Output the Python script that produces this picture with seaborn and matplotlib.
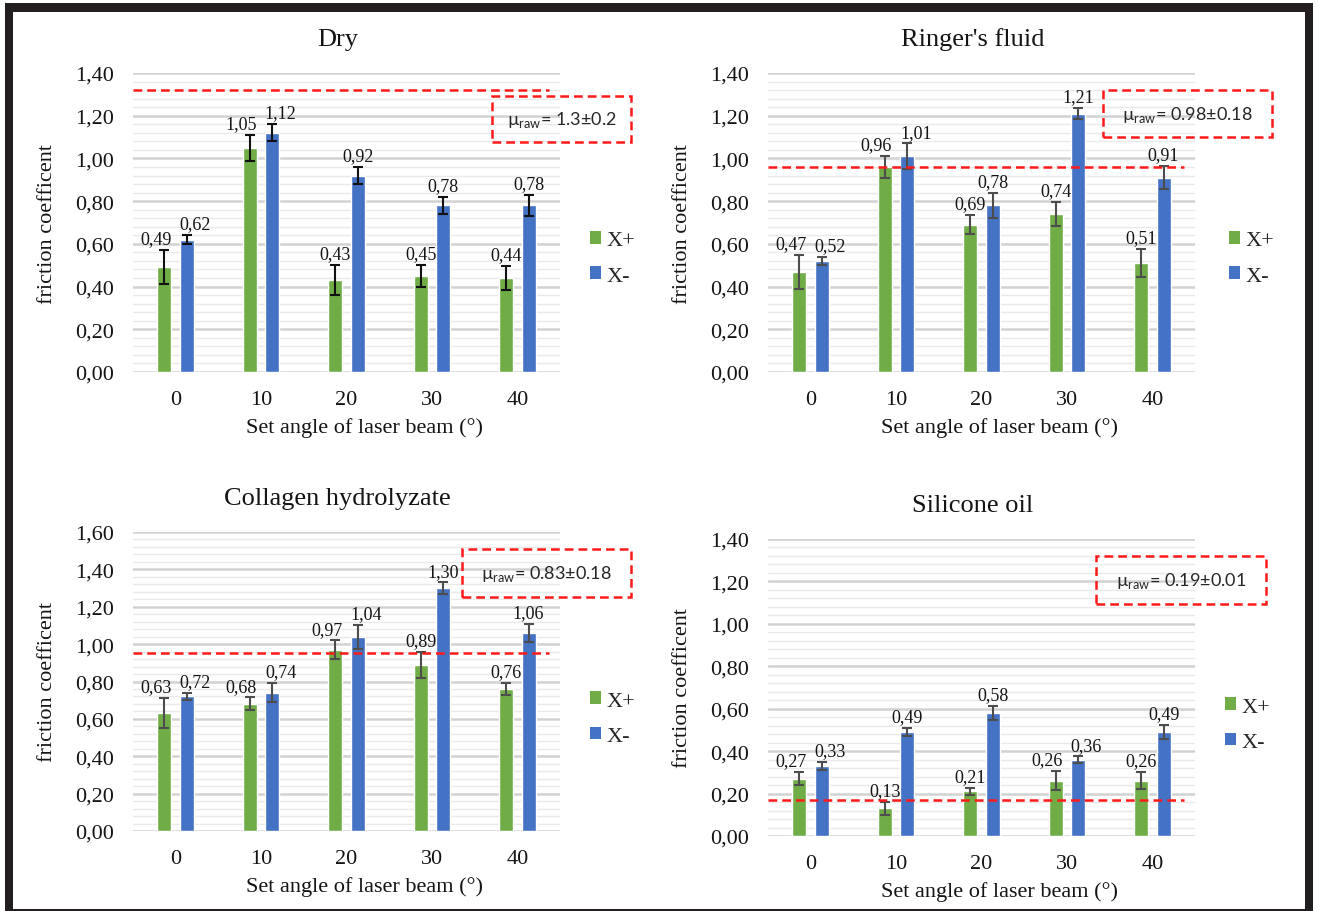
import numpy as np
import pandas as pd
import matplotlib
matplotlib.use("Agg")
import matplotlib.pyplot as plt
from matplotlib.patches import Patch, Rectangle
import seaborn as sns

# ---------------------------------------------------------------- data
angles = ["0", "10", "20", "30", "40"]
directions = ["X+", "X-"]

dry_xp = [0.49, 1.05, 0.43, 0.45, 0.44]
dry_xm = [0.62, 1.12, 0.92, 0.78, 0.78]
dry_xp_err = [0.08, 0.06, 0.07, 0.05, 0.055]
dry_xm_err = [0.02, 0.04, 0.04, 0.04, 0.05]

ringer_xp = [0.47, 0.96, 0.69, 0.74, 0.51]
ringer_xm = [0.52, 1.01, 0.78, 1.21, 0.91]
ringer_xp_err = [0.08, 0.05, 0.045, 0.055, 0.065]
ringer_xm_err = [0.02, 0.06, 0.06, 0.025, 0.055]

collagen_xp = [0.63, 0.68, 0.97, 0.89, 0.76]
collagen_xm = [0.72, 0.74, 1.04, 1.30, 1.06]
collagen_xp_err = [0.08, 0.035, 0.05, 0.07, 0.03]
collagen_xm_err = [0.02, 0.05, 0.065, 0.03, 0.05]

silicone_xp = [0.27, 0.13, 0.21, 0.26, 0.26]
silicone_xm = [0.33, 0.49, 0.58, 0.36, 0.49]
silicone_xp_err = [0.03, 0.03, 0.015, 0.045, 0.04]
silicone_xm_err = [0.02, 0.02, 0.035, 0.015, 0.035]

panel_titles = ["Dry", "Ringer's fluid", "Collagen hydrolyzate", "Silicone oil"]
mu_raw_texts = ["1.3±0.2", "0.98±0.18", "0.83±0.18", "0.19±0.01"]
mu_raw_levels = [1.32, 0.96, 0.95, 0.17]
y_max = [1.4, 1.4, 1.6, 1.4]

panels = [
    (dry_xp, dry_xm, dry_xp_err, dry_xm_err),
    (ringer_xp, ringer_xm, ringer_xp_err, ringer_xm_err),
    (collagen_xp, collagen_xm, collagen_xp_err, collagen_xm_err),
    (silicone_xp, silicone_xm, silicone_xp_err, silicone_xm_err),
]

# ---------------------------------------------------------------- style
GREEN = "#70AD47"
BLUE = "#4472C4"
RED = "#FF1A1A"
TEXT = "#141414"
SERIF = ["Liberation Serif", "DejaVu Serif"]
SANS = ["Lato", "DejaVu Sans"]
err_colors = ["#111111", "#4d4d4d", "#4d4d4d", "#4d4d4d"]

sns.set_theme(style="white")
plt.rcParams["font.family"] = SERIF
plt.rcParams["mathtext.fontset"] = "dejavusans"

W, H = 1319, 912
fig = plt.figure(figsize=(W / 100, H / 100), dpi=100)
fig.patch.set_facecolor("white")

# plot-area boxes in pixels: left, top, right, bottom
boxes = [(133, 74, 560, 373), (768, 74, 1195, 373),
         (133, 533, 560, 832), (768, 540, 1195, 837)]
# note boxes (axes fractions): x0, y0, x1, y1
note_boxes = [(0.841, 0.769, 1.166, 0.923), (0.785, 0.786, 1.18, 0.943),
              (0.77, 0.783, 1.166, 0.943), (0.768, 0.781, 1.166, 0.943)]
legend_anchor = [(1.07, 0.38), (1.08, 0.38), (1.07, 0.376), (1.07, 0.375)]


def fmt(v):
    return f"{v:.2f}".replace(".", ",")


for k, (l, t, r, b) in enumerate(boxes):
    ax = fig.add_axes([l / W, 1 - b / H, (r - l) / W, (b - t) / H])
    xp, xm, xp_err, xm_err = panels[k]
    df = pd.DataFrame({
        "angle": angles * 2,
        "direction": [directions[0]] * len(angles) + [directions[1]] * len(angles),
        "value": list(xp) + list(xm),
    })
    sns.barplot(data=df, x="angle", y="value", hue="direction",
                hue_order=directions, palette=[GREEN, BLUE], saturation=1,
                width=0.53, gap=0.38, errorbar=None, legend=False, ax=ax,
                zorder=2)

    ymax = y_max[k]
    ax.set_ylim(0, ymax)
    ax.set_xlim(-0.5, len(angles) - 0.5)
    ax.set_yticks(np.round(np.arange(0, ymax + 1e-9, 0.2), 2))
    ax.set_yticks(np.round(np.arange(0, ymax + 1e-9, 0.04), 2), minor=True)
    ax.yaxis.set_major_formatter(plt.FuncFormatter(lambda v, p: fmt(v)))
    ax.grid(axis="y", which="major", color="#d2d2d2", lw=1.8, zorder=0)
    ax.grid(axis="y", which="minor", color="#eaeaea", lw=1.0, zorder=0)
    ax.grid(axis="x", visible=False)
    ax.set_axisbelow(True)
    for s in ax.spines.values():
        s.set_visible(False)
    ax.tick_params(axis="both", which="both", length=0)
    ax.tick_params(axis="y", pad=13.5, labelsize=16)
    ax.tick_params(axis="x", pad=13, labelsize=16)
    for lab in ax.get_xticklabels() + ax.get_yticklabels():
        lab.set_family(SERIF)
        lab.set_color(TEXT)

    ax.set_xlabel("Set angle of laser beam (°)", fontsize=16, color=TEXT)
    ax.set_ylabel("friction coefficent", fontsize=16, color=TEXT)
    ax.xaxis.set_label_coords(0.542, -0.152)
    ax.yaxis.set_label_coords(-0.178, 0.5)
    ax.text(0.479, 1 + 28 / (b - t), panel_titles[k], transform=ax.transAxes,
            ha="center", va="baseline", fontsize=19, color=TEXT)

    # error bars on each bar
    tops = []
    centers = []
    for cont, vals, errs in zip(ax.containers, (xp, xm), (xp_err, xm_err)):
        xs = [p.get_x() + p.get_width() / 2 for p in cont.patches]
        ax.errorbar(xs, vals, yerr=errs, fmt="none", ecolor=err_colors[k],
                    elinewidth=1.5, capsize=3.5, capthick=1.5, zorder=3)
        centers.append(xs)
        tops.append([v + e for v, e in zip(vals, errs)])

    # value labels; pairs at similar heights are pushed apart
    for i in range(len(angles)):
        close = abs(tops[0][i] - tops[1][i]) < 0.1
        for j, vals in enumerate((xp, xm)):
            dx = (-6 if j == 0 else 6) if close else 0
            ax.annotate(fmt(vals[i]), (centers[j][i], tops[j][i]),
                        xytext=(dx, 2), textcoords="offset points",
                        ha="center", va="bottom", fontsize=13, color=TEXT,
                        zorder=5)

    # reference level of the raw surface
    ax.axhline(mu_raw_levels[k], xmin=0, xmax=0.975, color=RED, lw=1.8,
               ls=(0, (3.5, 2)), zorder=4)

    x0, y0, x1, y1 = note_boxes[k]
    ax.add_patch(Rectangle((x0, y0), x1 - x0, y1 - y0, transform=ax.transAxes,
                           fill=False, edgecolor=RED, lw=1.8,
                           ls=(0, (3.5, 2)), clip_on=False, zorder=6))
    ax.text((x0 + x1) / 2, (y0 + y1) / 2,
            "\u00b5$_{\\mathregular{raw}}$= " + mu_raw_texts[k],
            transform=ax.transAxes, ha="center", va="center",
            fontsize=13, family=SANS, color="#262626")

    handles = [Patch(facecolor=GREEN, edgecolor="none", label=directions[0]),
               Patch(facecolor=BLUE, edgecolor="none", label=directions[1])]
    ax.legend(handles=handles, loc="center left",
              bbox_to_anchor=legend_anchor[k], frameon=False,
              borderaxespad=0, borderpad=0, handlelength=0.5,
              handleheight=0.5, handletextpad=0.25, labelspacing=0.72,
              prop={"family": SERIF, "size": 16})

# dark frame around the whole figure
frame = [(5, 4, 1313, 13), (5, 4, 13, 912), (1305, 4, 1313, 912),
         (5, 910, 1313, 912)]
for x0, y0, x1, y1 in frame:
    fig.add_artist(Rectangle((x0 / W, 1 - y1 / H), (x1 - x0) / W,
                             (y1 - y0) / H, transform=fig.transFigure,
                             facecolor="#231f20", edgecolor="none", zorder=10))

fig.savefig("out.png", dpi=100, facecolor="white")
